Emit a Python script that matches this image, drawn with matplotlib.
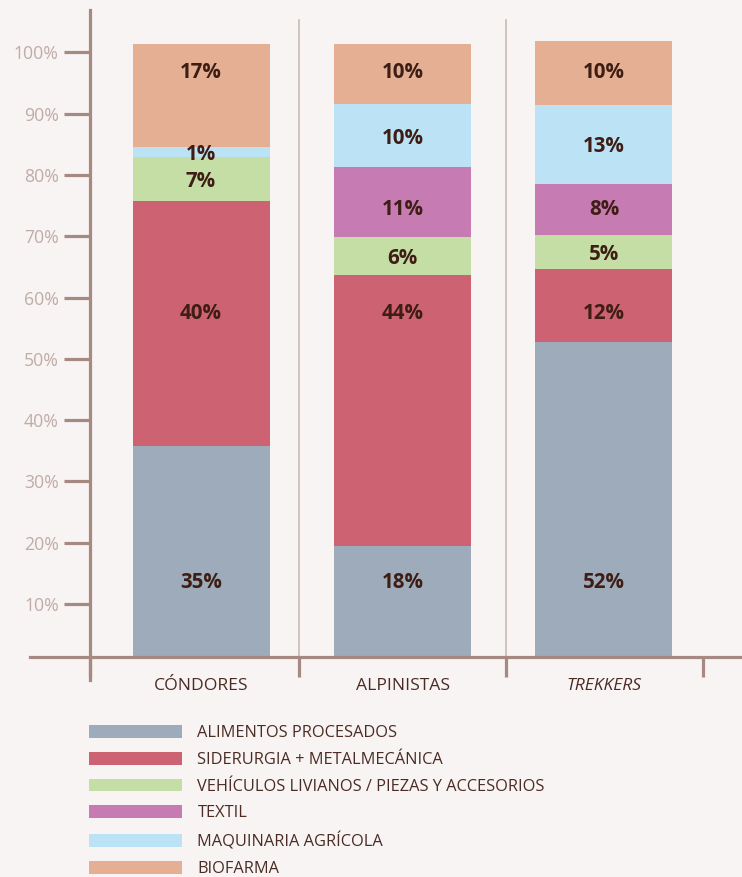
import matplotlib.pyplot as plt
from matplotlib.patches import Patch
import numpy as np

# ---- data ---------------------------------------------------------------
groups = ["CÓNDORES", "ALPINISTAS", "TREKKERS"]
series = ["ALIMENTOS PROCESADOS", "SIDERURGIA + METALMECÁNICA",
          "VEHÍCULOS LIVIANOS / PIEZAS Y ACCESORIOS", "TEXTIL",
          "MAQUINARIA AGRÍCOLA", "BIOFARMA"]

# segment heights (%), bottom to top
alimentos = [34.5, 18.2, 51.4]
siderurgia = [39.9, 44.2, 11.9]
vehiculos = [7.2, 6.2, 5.6]
textil = [0.0, 11.3, 8.3]
maquinaria = [1.7, 10.4, 12.9]
biofarma = [16.7, 9.7, 10.4]

# printed labels
lab_alimentos = ["35%", "18%", "52%"]
lab_siderurgia = ["40%", "44%", "12%"]
lab_vehiculos = ["7%", "6%", "5%"]
lab_textil = ["", "11%", "8%"]
lab_maquinaria = ["1%", "10%", "13%"]
lab_biofarma = ["17%", "10%", "10%"]

yticks = [10, 20, 30, 40, 50, 60, 70, 80, 90, 100]

# ---- style --------------------------------------------------------------
bg = "#f8f4f3"
axis_col = "#a68a82"
tick_txt = "#c0aca6"
dark = "#4a2c24"
val_col = "#3e1e14"
colors = ["#9eabbb", "#cc6272", "#c5dea5", "#c67cb3", "#bce3f5", "#e5af94"]

plt.rcParams['font.family'] = ['Open Sans', 'DejaVu Sans']

fig = plt.figure(figsize=(7.42, 8.77), dpi=100)
fig.patch.set_facecolor(bg)
ax = fig.add_axes([30 / 742, 197 / 877, 712 / 742, 670 / 877])
ax.set_facecolor(bg)

x = np.arange(len(groups))
values = [alimentos, siderurgia, vehiculos, textil, maquinaria, biofarma]
labels = [lab_alimentos, lab_siderurgia, lab_vehiculos, lab_textil,
          lab_maquinaria, lab_biofarma]

# label rows used by the original for some series (None = segment centre)
label_rows = [12.6, 56.5, None, 73.5, None, 95.8]

bottom = np.zeros(len(groups))
handles = []
for i, (vals, lab) in enumerate(zip(values, labels)):
    vals = np.array(vals)
    ax.bar(x, vals, 0.68, bottom=bottom, color=colors[i], linewidth=0,
           zorder=2)
    for j in range(len(groups)):
        if not lab[j]:
            continue
        yl = label_rows[i]
        if yl is None:
            yl = bottom[j] + vals[j] / 2.0
        ax.text(x[j], yl, lab[j], ha='center', va='center_baseline',
                fontsize=14.8, fontweight='bold', color=val_col, zorder=3)
    handles.append(Patch(facecolor=colors[i], edgecolor='none'))
    bottom = bottom + vals

# separators between groups
for xs in [0.484, 1.515]:
    ax.plot([xs, xs], [0, 104.0], color="#cbbab5", lw=1.2, zorder=1)

ax.set_xlim(-0.849, 2.685)
ax.set_ylim(-3.67, 105.58)

for s in ['top', 'right']:
    ax.spines[s].set_visible(False)
ax.spines['left'].set_position(('data', -0.551))
ax.spines['bottom'].set_position(('data', 0))
for s in ['left', 'bottom']:
    ax.spines[s].set_color(axis_col)
    ax.spines[s].set_linewidth(2.3)

# y ticks drawn slightly below the nominal values, as in the original
ax.set_yticks([v - 1.3 for v in yticks])
ax.set_yticklabels(["%d%%" % v for v in yticks])
ax.tick_params(axis='y', direction='out', length=19, width=2.3,
               color=axis_col, labelcolor=tick_txt, labelsize=12.7, pad=3.5)

ax.set_xticks([-0.551, 0.484, 1.515, 2.49])
ax.set_xticklabels([])
ax.tick_params(axis='x', direction='out', length=14.5, width=2.3,
               color=axis_col)

for j, g in enumerate(groups):
    ax.text(x[j], -4.3, g, ha='center', va='center_baseline', fontsize=12.6,
            color=dark, style='italic' if g == "TREKKERS" else 'normal')

leg = fig.legend(handles, series, loc='upper left',
                 bbox_to_anchor=(89 / 742, 1 - 725 / 877), frameon=False,
                 fontsize=11.8, handlelength=5.65, handleheight=0.82,
                 handletextpad=0.97, labelspacing=0.655, borderpad=0,
                 borderaxespad=0)
for t in leg.get_texts():
    t.set_color(dark)

fig.savefig("out.png", dpi=100, facecolor=bg)
